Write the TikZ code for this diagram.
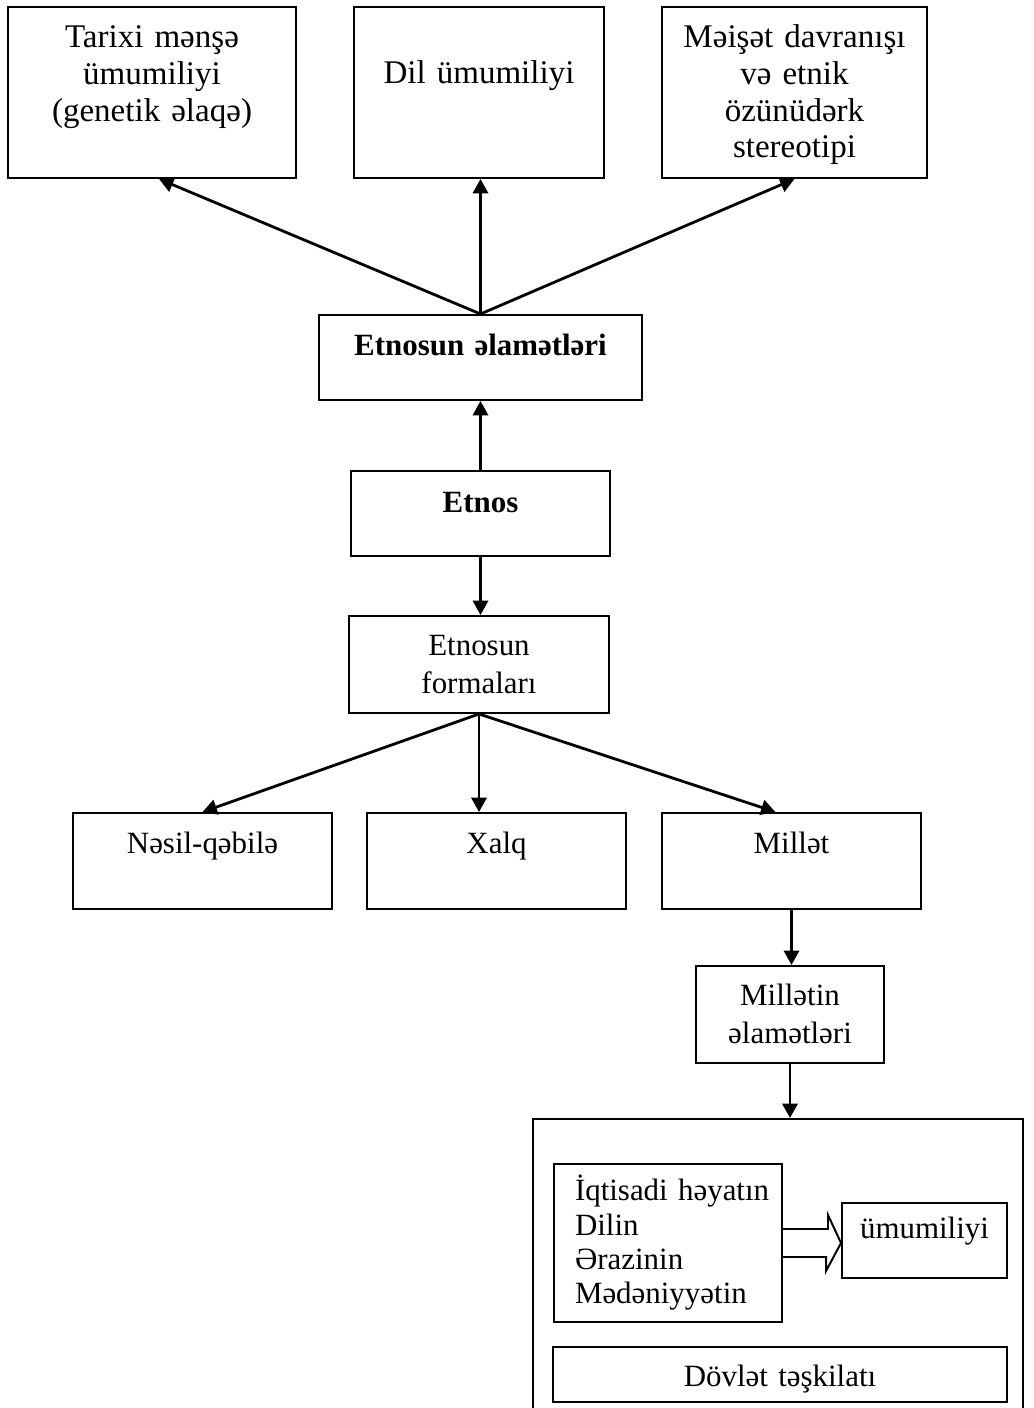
\documentclass[tikz,border=0pt]{standalone}
\usepackage{fontspec}
\setmainfont{Liberation Serif}
\usetikzlibrary{positioning,arrows.meta,calc}

\begin{document}
\begin{tikzpicture}[
  blk/.style={draw, line width=1.4pt, inner sep=0pt, anchor=north, align=center,
    font=\fontsize{22}{24.2}\selectfont},
  hd/.style={blk, font=\fontsize{23.5}{26}\selectfont},
  pair/.style={blk, font=\fontsize{22}{27}\selectfont},
  bld/.style={blk, font=\fontsize{22}{24.2}\selectfont\bfseries},
  >={Triangle[length=0.36cm, width=0.38cm]}, line width=2pt, color=black
]
\useasboundingbox (0,0) rectangle (25.825,-35.2);
\clip (0,0) rectangle (25.825,-35.2);

\node[hd, text width=7.2cm, text height=1.025cm, text depth=3.25cm] (origin) at (3.8,-0.15) {Tarixi mənşə\\ ümumiliyi\\ (genetik əlaqə)};
\node[hd, text width=6.25cm, text height=1.925cm, text depth=2.35cm] (lang) at (11.975,-0.15) {Dil ümumiliyi};
\node[hd, text width=6.625cm, text height=1.025cm, text depth=3.25cm] (habit) at (19.8625,-0.15) {Məişət davranışı\\ və etnik\\ özünüdərk\\ stereotipi};

\node[bld, text width=8.075cm, text height=1.025cm, text depth=1.1cm] (signs) at (12.0125,-7.85) {Etnosun əlamətləri};
\node[bld, text width=6.475cm, text height=1.05cm, text depth=1.075cm] (etnos) at (12.0125,-11.75) {Etnos};
\node[pair, text width=6.5cm, text height=1.0cm, text depth=1.425cm] (forms) at (11.975,-15.375) {Etnosun\\ formaları};

\node[blk, text width=6.475cm, text height=1.025cm, text depth=1.375cm] (tribe) at (5.0625,-20.3) {Nəsil-qəbilə};
\node[blk, text width=6.475cm, text height=1.025cm, text depth=1.375cm] (folk) at (12.4125,-20.3) {Xalq};
\node[blk, text width=6.475cm, text height=1.025cm, text depth=1.375cm] (nation) at (19.7875,-20.3) {Millət};

\node[pair, text width=4.7cm, text height=1.0cm, text depth=1.425cm] (nsigns) at (19.75,-24.125) {Millətin\\ əlamətləri};

\node[blk, text width=12.25cm, text height=0cm, text depth=7.5cm] (frame) at (19.45,-27.95) {};
\node[blk, text width=5.7cm, text height=0.925cm, text depth=3.025cm, align=left] (common) at (16.7,-29.075) {\hspace*{0.525cm}İqtisadi həyatın\\ \hspace*{0.525cm}Dilin\\ \hspace*{0.525cm}Ərazinin\\ \hspace*{0.525cm}Mədəniyyətin};
\node[blk, text width=4.125cm, text height=0.9cm, text depth=0.975cm] (unity) at (23.1125,-30.05) {ümumiliyi};
\node[blk, text width=11.35cm, text height=0.975cm, text depth=0.4cm] (state) at (19.5,-33.65) {Dövlət təşkilatı};

\draw[->] (signs.north) -- ([xshift=0.175cm]origin.south);
\draw[->] (signs.north) -- (signs.north |- lang.south);
\draw[->] (signs.north) -- (habit.south);
\draw[->] (etnos.north) -- (signs.south);
\draw[->] (etnos.south) -- (etnos.south |- forms.north);

\draw[->] (forms.south) -- (tribe.north);
\draw[->] (forms.south) -- (forms.south |- folk.north);
\draw[->] (forms.south) -- ([xshift=-0.4cm]nation.north);
\draw[->] (nation.south) -- (nation.south |- nsigns.north);
\draw[->] (nsigns.south) -- (nsigns.south |- frame.north);

\draw[line width=1.4pt] ([yshift=0.35cm]common.east) -- ++(1.125,0) -- ++(0,0.35) -- (unity.west |- common.east) -- ++(-0.375,-0.7) -- ++(0,0.35) -- ++(-1.125,0);
\end{tikzpicture}
\end{document}
